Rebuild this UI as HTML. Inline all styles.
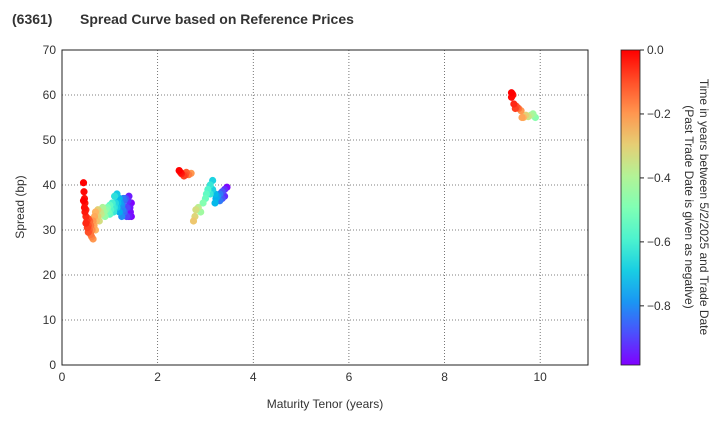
<!DOCTYPE html>
<html><head><meta charset="utf-8"><style>
body{margin:0;background:#fff;font-family:"Liberation Sans",sans-serif}
text{font-family:"Liberation Sans",sans-serif}
</style></head><body>
<svg id="c" width="720" height="420">
<defs><linearGradient id="cb" x1="0" y1="1" x2="0" y2="0"></linearGradient></defs>
<text x="12" y="24" font-size="14" font-weight="bold" fill="#333">(6361)</text>
<text x="80" y="24" font-size="14" font-weight="bold" fill="#333">Spread Curve based on Reference Prices</text>
<g id="grid"></g><g id="pts"></g><g id="axes"></g>
<text x="325" y="408" font-size="12" text-anchor="middle" fill="#333">Maturity Tenor (years)</text>
<text transform="translate(24,207) rotate(-90)" font-size="12" text-anchor="middle" fill="#333">Spread (bp)</text>
<text transform="translate(700,207) rotate(90)" font-size="12" text-anchor="middle" fill="#333"><tspan x="0" dy="0">Time in years between 5/2/2025 and Trade Date</tspan><tspan x="0" dy="15">(Past Trade Date is given as negative)</tspan></text>
</svg>
<script>
const xTicks=[0,2,4,6,8,10];
const yTicks=[0,10,20,30,40,50,60,70];
const cTicks=[0.0,-0.2,-0.4,-0.6,-0.8];
const cTickLabels=["0.0","−0.2","−0.4","−0.6","−0.8"];
const tenors=[0.45,0.45,0.46,0.47,0.47,0.48,0.48,0.5,0.5,0.52,0.53,0.55,0.55,0.57,0.58,0.6,0.6,0.62,0.63,0.65,0.65,0.67,0.68,0.7,0.7,0.72,0.75,0.75,0.78,0.8,0.82,0.85,0.9,0.92,0.95,1.0,1.0,1.02,1.05,1.08,1.1,1.1,1.12,1.15,1.15,1.18,1.2,1.2,1.22,1.25,1.25,1.28,1.3,1.3,1.33,1.35,1.35,1.38,1.4,1.4,1.42,1.45,1.45,
0.5,0.55,0.6,0.88,0.97,1.07,1.17,1.27,1.37,1.43,
2.45,2.5,2.55,2.6,2.65,2.7,2.48,2.58,
2.75,2.78,2.8,2.85,2.9,2.95,3.0,3.02,3.05,3.1,3.1,3.15,3.15,3.2,3.2,3.22,3.25,3.3,3.3,3.35,3.35,3.4,3.4,3.45,
9.4,9.4,9.43,9.45,9.48,9.5,9.55,9.6,9.62,9.65,9.7,9.75,9.8,9.85,9.9,9.42,9.52];
const spreads=[40.5,36.5,38.5,37,35,34,36,33,31.5,32,30.5,31,29.5,30,32,29,31,28.5,30,28,32,31,33,30,34,32,33,34.5,32,34,33.5,35,33,34.5,35,33.5,35.5,34.5,36,34,37.5,35,36,38,35,37,34,37,36,33,35.5,37,34,36.5,37,33,35,36.5,33,37.5,35,33,36,
34.5,32.5,31,34,34,35,36,34.5,35,34,
43.2,42.5,42,42.8,42.3,42.6,42.8,42.2,
32,33,34.5,35,34,36,37,38,39,38,40,41,39,38,36,37,37.5,38,36.5,37,38.5,39,37.5,39.5,
60.5,59.5,60,58,57,57.5,57,56.5,55,55,55.5,55.2,55.5,55.8,55,60.2,57.2];
const times=[0,0,-0.01,-0.02,-0.02,-0.03,-0.03,-0.05,-0.05,-0.07,-0.08,-0.1,-0.1,-0.12,-0.13,-0.15,-0.15,-0.17,-0.18,-0.2,-0.2,-0.22,-0.23,-0.25,-0.25,-0.27,-0.3,-0.3,-0.33,-0.35,-0.37,-0.4,-0.45,-0.47,-0.5,-0.55,-0.55,-0.57,-0.6,-0.63,-0.65,-0.65,-0.67,-0.7,-0.7,-0.73,-0.75,-0.75,-0.77,-0.8,-0.8,-0.83,-0.85,-0.85,-0.88,-0.9,-0.9,-0.93,-0.95,-0.95,-0.96,-0.98,-0.98,
-0.05,-0.1,-0.15,-0.43,-0.52,-0.62,-0.72,-0.82,-0.92,-0.97,
0,-0.04,-0.08,-0.12,-0.16,-0.2,-0.02,-0.1,
-0.28,-0.31,-0.33,-0.38,-0.43,-0.48,-0.53,-0.55,-0.58,-0.63,-0.63,-0.68,-0.68,-0.73,-0.73,-0.75,-0.78,-0.83,-0.83,-0.88,-0.88,-0.93,-0.93,-0.98,
0,-0.01,-0.03,-0.05,-0.08,-0.1,-0.15,-0.2,-0.22,-0.25,-0.3,-0.35,-0.4,-0.43,-0.47,-0.02,-0.12];
const L=62,R=588,T=50,B=365,VMIN=-0.985,VMAX=0;
const X=v=>L+(v/11)*(R-L), Y=v=>B-(v/70)*(B-T);
const C=v=>T+(VMAX-v)/(VMAX-VMIN)*(B-T);
function rainbow(t){const x=(t-VMIN)/(VMAX-VMIN);const r=Math.min(1,Math.abs(2*x-0.5)),g=Math.sin(Math.PI*x),b=Math.cos(Math.PI*x/2);return `rgb(${Math.round(r*255)},${Math.round(g*255)},${Math.round(b*255)})`;}
const ns="http://www.w3.org/2000/svg";
function mk(tag,at,par){const e=document.createElementNS(ns,tag);for(const k in at)e.setAttribute(k,at[k]);par.appendChild(e);return e;}
const grid=document.getElementById('grid'),axes=document.getElementById('axes'),pts=document.getElementById('pts');
xTicks.forEach(v=>{const l=mk('line',{x1:X(v),x2:X(v),y1:T,y2:B,stroke:'#555','stroke-dasharray':'1,2','stroke-width':0.8},grid);


const t=mk('text',{x:X(v),y:B+16,'font-size':12,'text-anchor':'middle',fill:'#333'},axes);t.textContent=v;

});
yTicks.forEach(v=>{const l=mk('line',{x1:L,x2:R,y1:Y(v),y2:Y(v),stroke:'#555','stroke-dasharray':'1,2','stroke-width':0.8},grid);


const t=mk('text',{x:L-6,y:Y(v)+4,'font-size':12,'text-anchor':'end',fill:'#333'},axes);t.textContent=v;

});
const fr=mk('rect',{x:L,y:T,width:R-L,height:B-T,fill:'none',stroke:'#222','stroke-width':1},axes);


const idx=tenors.map((_,i)=>i).sort((a,b)=>times[a]-times[b]);
idx.forEach(i=>{const c=mk('circle',{cx:X(tenors[i]),cy:Y(spreads[i]),r:3.6,fill:rainbow(times[i])},pts);

});
const g=document.getElementById('cb');
for(let k=0;k<=10;k++){const t=VMIN+(VMAX-VMIN)*k/10;const s=mk('stop',{offset:(k*10)+'%','stop-color':rainbow(t)},g);

}
const cb=mk('rect',{x:621,y:T,width:19,height:B-T,fill:'url(#cb)',stroke:'#222','stroke-width':0.8},axes);


cTicks.forEach((v,i)=>{const l=mk('line',{x1:640,x2:644,y1:C(v),y2:C(v),stroke:'#222'},axes);


const t=mk('text',{x:647,y:C(v)+4,'font-size':12,fill:'#333'},axes);t.textContent=cTickLabels[i];

});
</script>
</body></html>
